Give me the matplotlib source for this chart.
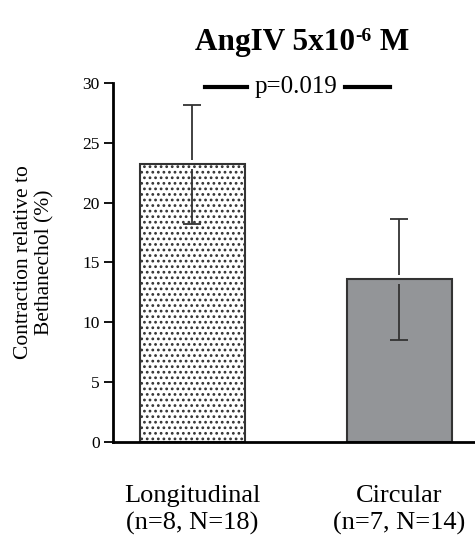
import numpy as np
import matplotlib
matplotlib.use("Agg")
import matplotlib.pyplot as plt

plt.rcParams['font.family'] = ['Liberation Serif', 'DejaVu Serif']
plt.rcParams['hatch.linewidth'] = 1.2
plt.rcParams['hatch.color'] = '#444444'

# data
groups = ["Longitudinal\n(n=8, N=18)", "Circular\n(n=7, N=14)"]
means = np.array([23.2, 13.6])
sem = np.array([5.0, 5.05])
p_text = "p=0.019"

fig = plt.figure(figsize=(4.75, 5.41), dpi=100)
ax = fig.add_axes([0.238, 0.183, 0.762, 0.6636])

x = np.arange(len(groups))
bars = ax.bar(x, means, width=0.507, color=['white', '#939598'],
              edgecolor='#333333', linewidth=1.5, zorder=2)
bars[0].set_hatch('...')

# caps from errorbar, stems drawn in two pieces (small gap at the bar top)
eb = ax.errorbar(x, means, yerr=sem, fmt='none', ecolor='#333333',
                 elinewidth=1.3, capsize=6.5, capthick=1.3, zorder=3)
for part in eb[2]:
    part.set_visible(False)
gap = 0.38
ax.vlines(x, means + gap, means + sem, color='#333333', lw=1.3, zorder=3)
ax.vlines(x, means - sem, means - gap, color='#333333', lw=1.3, zorder=3)

# significance marker
ytop = 29.65
ax.text(0.5, ytop, p_text, ha='center', va='center', fontsize=18)
ax.plot([0.063, 0.266], [ytop, ytop], color='black', lw=3, clip_on=False)
ax.plot([0.739, 0.957], [ytop, ytop], color='black', lw=3, clip_on=False)

ax.set_xlim(-0.382, 1.367)
ax.set_ylim(0, 30)
ax.set_yticks(np.arange(0, 31, 5))
ax.set_xticks(x)
ax.set_xticklabels(groups, fontsize=19, linespacing=1.25)
ax.tick_params(axis='x', length=0, pad=31)
ax.tick_params(axis='y', length=6.5, width=1.3, labelsize=12.5, pad=3)

for s in ['top', 'right']:
    ax.spines[s].set_visible(False)
ax.spines['left'].set_linewidth(2)
ax.spines['bottom'].set_linewidth(2)

ax.set_ylabel("Contraction relative to\nBethanechol (%)", fontsize=15.5,
              linespacing=1.2, labelpad=20)

# title with a hyphen superscript, built from three pieces
fig.canvas.draw()
r = fig.canvas.get_renderer()
tsize = 22.5
parts = [("AngIV 5x10", tsize, 0), ("-6", tsize * 0.62, 8.5), (" M", tsize, 0)]
widths = []
for s, fs, dy in parts:
    t = fig.text(0, 0, s, fontsize=fs, fontweight='bold')
    widths.append(t.get_window_extent(r).width)
    t.remove()
x0 = 0.636 * fig.bbox.width - sum(widths) / 2
y0 = 0.908 * fig.bbox.height
for (s, fs, dy), w in zip(parts, widths):
    fig.text(x0 / fig.bbox.width, (y0 + dy) / fig.bbox.height, s, fontsize=fs,
             fontweight='bold', va='baseline')
    x0 += w

fig.savefig("out.png", dpi=100)
